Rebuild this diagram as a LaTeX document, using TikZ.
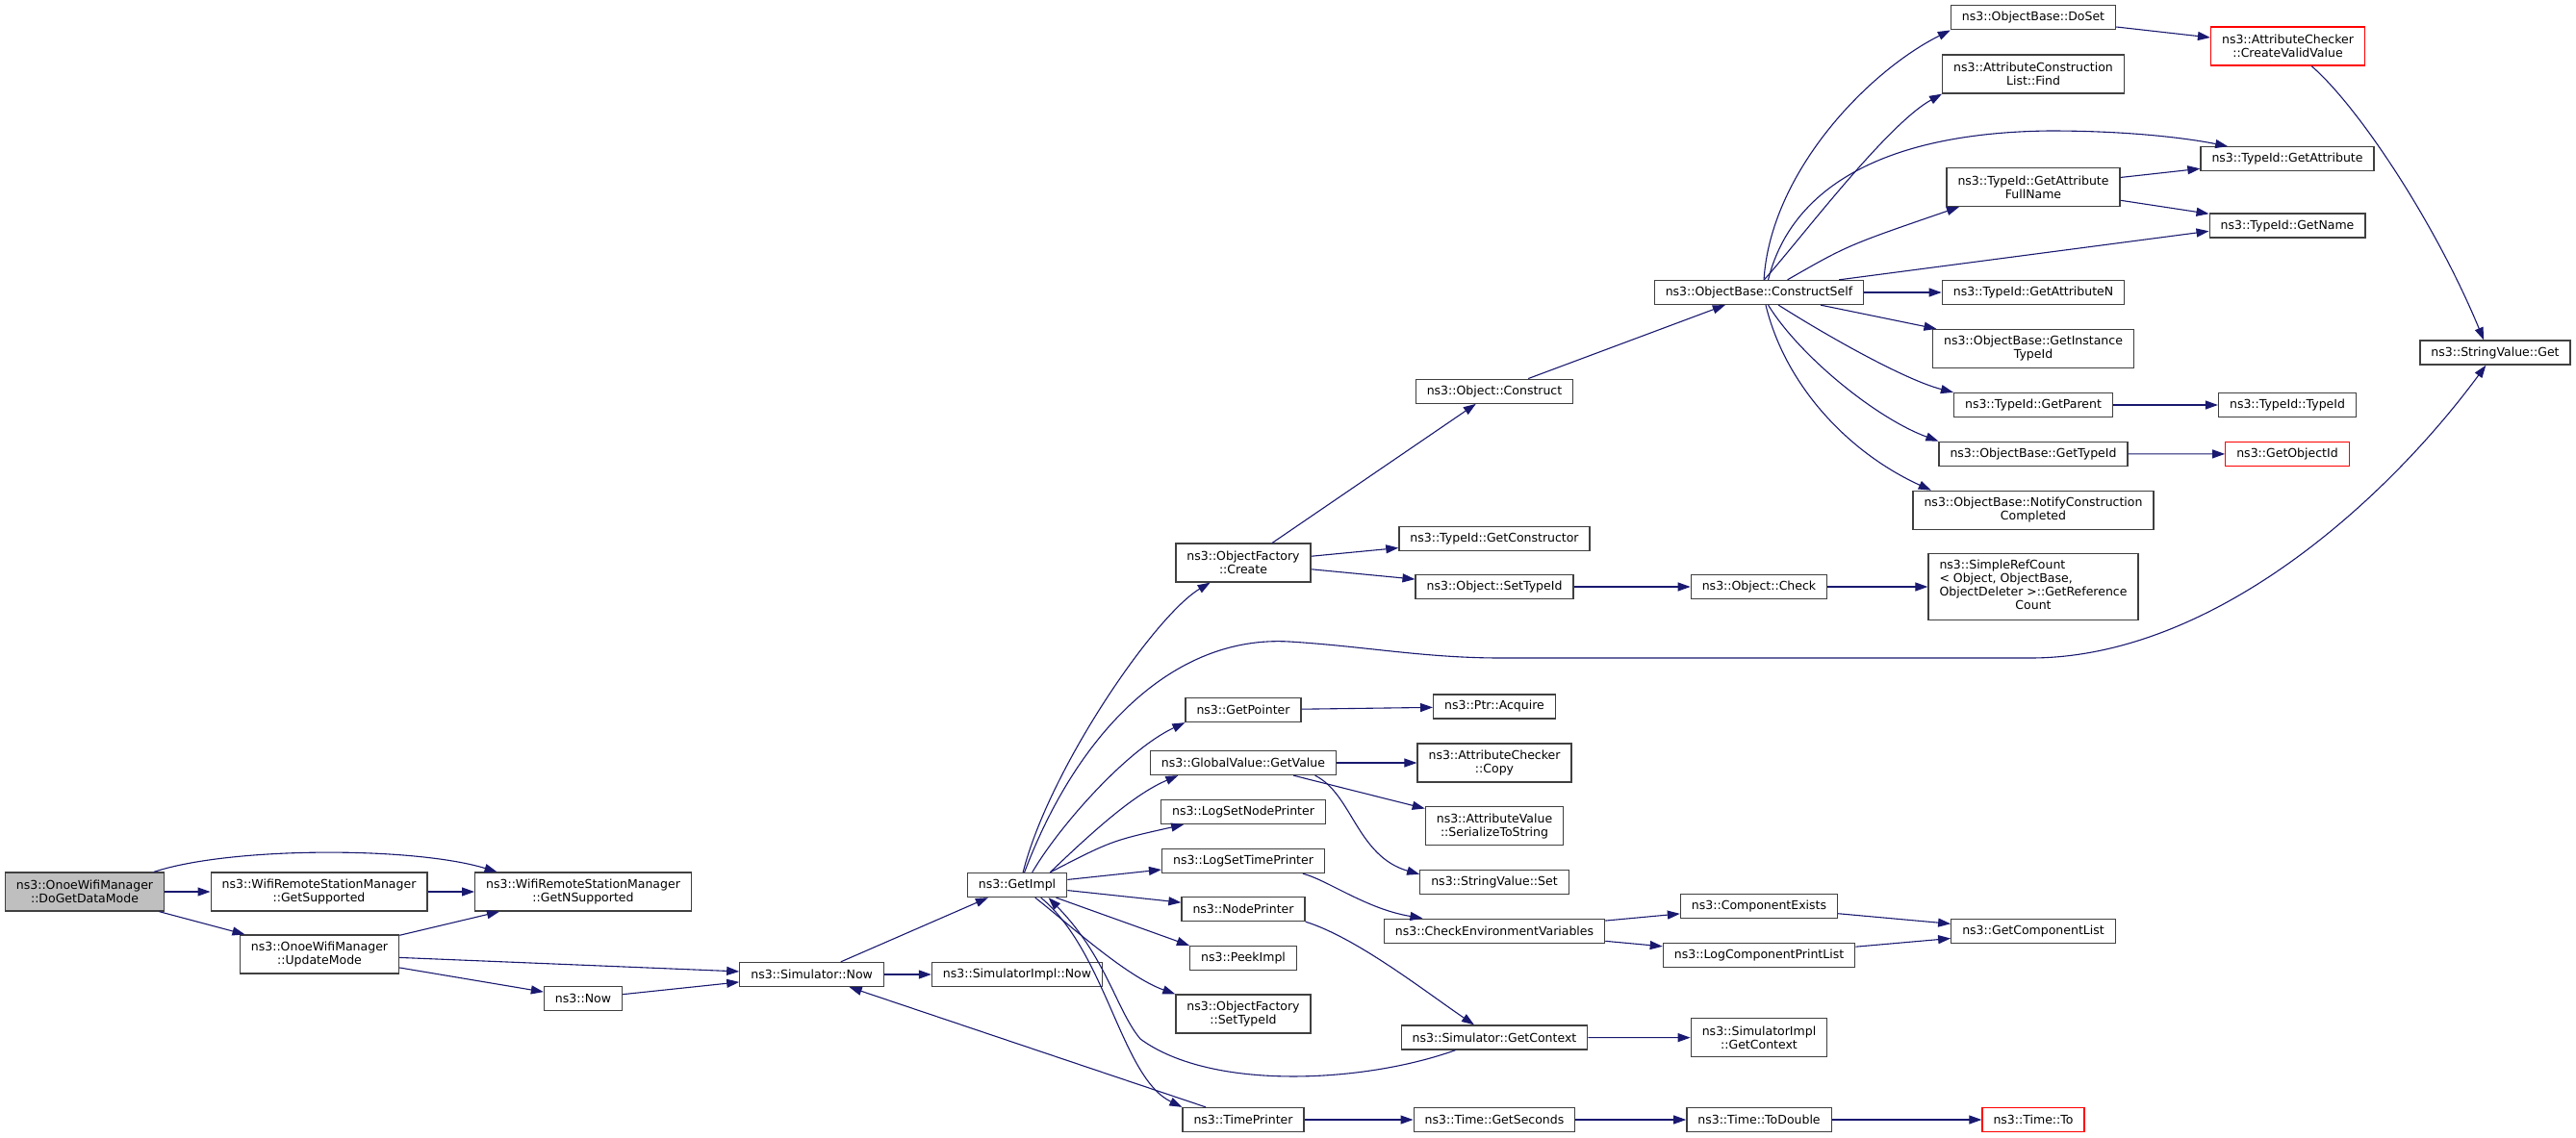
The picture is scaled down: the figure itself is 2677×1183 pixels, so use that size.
\documentclass[tikz,border=0pt]{standalone}
\usepackage{fontspec}
\setmainfont{DejaVu Sans}
\usetikzlibrary{arrows.meta}
\definecolor{edgeblue}{HTML}{191970}
\definecolor{boxgray}{HTML}{404040}

\begin{document}
\begin{tikzpicture}[x=1pt,y=-1pt,
	fn/.style={draw=boxgray,line width=1.3pt,fill=white,align=center,inner xsep=11.5pt,inner ysep=2pt,minimum height=25pt,font=\fontsize{12.5}{14}\selectfont},
	two/.style={minimum height=40pt},
	rootfn/.style={fn,fill=gray!50},
	redfn/.style={fn,draw=red},
	call/.style={draw=edgeblue,line width=1.1pt,-{Triangle[length=13pt,width=9pt]}}]
	\useasboundingbox (0,0) rectangle (2677,1183);
	
	%boxes, left part
	\node[rootfn,two] (dogetdata) at (88,927) {ns3::OnoeWifiManager\\::DoGetDataMode};
	\node[fn,two] (getsupported) at (331.5,927) {ns3::WifiRemoteStationManager\\::GetSupported};
	\node[fn,two] (updatemode) at (332,992) {ns3::OnoeWifiManager\\::UpdateMode};
	\node[fn,two] (getnsupported) at (606,927) {ns3::WifiRemoteStationManager\\::GetNSupported};
	\node[fn] (now) at (606,1038) {ns3::Now};
	\node[fn] (simnow) at (843.6,1013) {ns3::Simulator::Now};
	\node[fn] (simimplnow) at (1057,1013) {ns3::SimulatorImpl::Now};
	\node[fn] (getimpl) at (1057,920) {ns3::GetImpl};
	%
	\node[fn,two] (ofcreate) at (1292,585) {ns3::ObjectFactory\\::Create};
	\node[fn] (getpointer) at (1292,738) {ns3::GetPointer};
	\node[fn] (getvalue) at (1292,793) {ns3::GlobalValue::GetValue};
	\node[fn] (lognodeprinter) at (1292,844) {ns3::LogSetNodePrinter};
	\node[fn] (logtimeprinter) at (1292,895) {ns3::LogSetTimePrinter};
	\node[fn] (nodeprinter) at (1292,945) {ns3::NodePrinter};
	\node[fn] (peekimpl) at (1292,996) {ns3::PeekImpl};
	\node[fn,two] (ofsettypeid) at (1292,1054) {ns3::ObjectFactory\\::SetTypeId};
	\node[fn] (timeprinter) at (1292,1164) {ns3::TimePrinter};
	%
	\node[fn] (construct) at (1553,406.7) {ns3::Object::Construct};
	\node[fn] (getconstructor) at (1553,560) {ns3::TypeId::GetConstructor};
	\node[fn] (objsettypeid) at (1553,610) {ns3::Object::SetTypeId};
	\node[fn] (acquire) at (1553,734.5) {ns3::Ptr::Acquire};
	\node[fn,two] (copy) at (1553,793) {ns3::AttributeChecker\\::Copy};
	\node[fn,two] (serialize) at (1553,858.7) {ns3::AttributeValue\\::SerializeToString};
	\node[fn] (svset) at (1553,917) {ns3::StringValue::Set};
	\node[fn] (checkenv) at (1553,967.7) {ns3::CheckEnvironmentVariables};
	\node[fn] (simcontext) at (1553,1078.5) {ns3::Simulator::GetContext};
	\node[fn] (getseconds) at (1553,1164) {ns3::Time::GetSeconds};
	%
	\node[fn] (constructself) at (1828,304) {ns3::ObjectBase::ConstructSelf};
	\node[fn] (objcheck) at (1828,610) {ns3::Object::Check};
	\node[fn] (compexists) at (1828,942.3) {ns3::ComponentExists};
	\node[fn] (logcomplist) at (1828,993) {ns3::LogComponentPrintList};
	\node[fn,two] (simimplcontext) at (1828,1078.7) {ns3::SimulatorImpl\\::GetContext};
	\node[fn] (todouble) at (1828,1164) {ns3::Time::ToDouble};
	
	%boxes, right part
	\node[fn] (doset) at (2113,18.3) {ns3::ObjectBase::DoSet};
	\node[fn,two] (find) at (2113,77) {ns3::AttributeConstruction\\List::Find};
	\node[fn,two] (fullname) at (2113,194.5) {ns3::TypeId::GetAttribute\\FullName};
	\node[fn] (getattrn) at (2113,304) {ns3::TypeId::GetAttributeN};
	\node[fn,two] (instance) at (2113,362.5) {ns3::ObjectBase::GetInstance\\TypeId};
	\node[fn] (getparent) at (2113,421) {ns3::TypeId::GetParent};
	\node[fn] (gettypeid) at (2113,471.7) {ns3::ObjectBase::GetTypeId};
	\node[fn,two] (notify) at (2113,530.3) {ns3::ObjectBase::NotifyConstruction\\Completed};
	\node[fn,minimum height=68.6pt] (refcount) at (2113,610) {\begin{tabular}{@{}c@{}}\multicolumn{1}{@{}l@{}}{ns3::SimpleRefCount}\\\multicolumn{1}{@{}l@{}}{< Object, ObjectBase,}\\ObjectDeleter >::GetReference\\Count\end{tabular}};
	\node[fn] (complist) at (2113,968) {ns3::GetComponentList};
	\node[redfn] (timeto) at (2113,1164) {ns3::Time::To};
	%
	\node[redfn,two] (createvalid) at (2377.5,48) {ns3::AttributeChecker\\::CreateValidValue};
	\node[fn] (getattr) at (2377,165.3) {ns3::TypeId::GetAttribute};
	\node[fn] (getname) at (2377,234.6) {ns3::TypeId::GetName};
	\node[fn] (typeid) at (2377,421) {ns3::TypeId::TypeId};
	\node[redfn] (getobjectid) at (2377,472) {ns3::GetObjectId};
	\node[fn] (svget) at (2593,366.6) {ns3::StringValue::Get};
	
	%calls from the root
	\draw[call] (dogetdata) -- (getsupported);
	\draw[call] (dogetdata.16) .. controls (240,880) and (430,880) .. (getnsupported.167);
	\draw[call] (dogetdata) -- (updatemode);
	\draw[call] (getsupported) -- (getnsupported);
	\draw[call] (updatemode) -- (getnsupported);
	\draw[call] (updatemode) -- (simnow);
	\draw[call] (updatemode) -- (now);
	\draw[call] (now) -- (simnow);
	\draw[call] (simnow) -- (getimpl);
	\draw[call] (simnow) -- (simimplnow);
	\draw[call] (timeprinter) -- (simnow);
	
	%calls from GetImpl
	\draw[call] (getimpl.65) .. controls (1090,800) and (1200,640) .. (ofcreate.211);
	\draw[call] (getimpl.60) .. controls (1120,760) and (1220,660) .. (1340,667) .. controls (1420,672) and (1480,684) .. (1560,684) -- (2110,684) .. controls (2300,684) and (2480,520) .. (svget);
	\draw[call] (getimpl.40) .. controls (1100,860) and (1170,780) .. (getpointer.south west);
	\draw[call] (getimpl.21) .. controls (1140,860) and (1180,825) .. (getvalue.191);
	\draw[call] (getimpl.21) .. controls (1155,874) .. (lognodeprinter.192);
	\draw[call] (getimpl) -- (logtimeprinter);
	\draw[call] (getimpl) -- (nodeprinter);
	\draw[call] (getimpl.-18) -- (peekimpl.north west);
	\draw[call] (getimpl.-35) .. controls (1110,960) and (1170,1015) .. (ofsettypeid.north west);
	\draw[call] (getimpl.-28) .. controls (1150,990) and (1165,1120) .. (timeprinter.north west);
	\draw[call] (simcontext.198) .. controls (1420,1125) and (1260,1135) .. (1185,1080) .. controls (1160,1050) and (1150,995) .. (getimpl.-22);
	
	%object construction
	\draw[call] (ofcreate) -- (construct);
	\draw[call] (ofcreate) -- (getconstructor);
	\draw[call] (ofcreate) -- (objsettypeid);
	\draw[call] (objsettypeid) -- (objcheck);
	\draw[call] (objcheck) -- (refcount);
	\draw[call] (construct) -- (constructself);
	\draw[call] (constructself.69) .. controls (1840,180) and (1940,75) .. (doset.south west);
	\draw[call] (constructself.68) .. controls (1870,250) and (1960,130) .. (find.south west);
	\draw[call] (constructself.54) .. controls (1860,200) and (1950,138) .. (2130,136) .. controls (2220,136) and (2280,145) .. (getattr.168);
	\draw[call] (constructself.24) .. controls (1920,255) .. (fullname.195);
	\draw[call] (constructself.9) -- (getname.184);
	\draw[call] (constructself) -- (getattrn);
	\draw[call] (constructself) -- (instance);
	\draw[call] (constructself.-33) .. controls (1900,350) and (1980,395) .. (getparent.north west);
	\draw[call] (constructself.-54) .. controls (1870,370) and (1950,435) .. (gettypeid.north west);
	\draw[call] (constructself.-62) .. controls (1855,400) and (1920,470) .. (notify.169);
	\draw[call] (fullname) -- (getattr);
	\draw[call] (fullname) -- (getname);
	\draw[call] (doset) -- (createvalid);
	\draw[call] (createvalid.-40) .. controls (2450,110) and (2530,230) .. (svget.132);
	\draw[call] (getparent) -- (typeid);
	\draw[call] (gettypeid) -- (getobjectid);
	
	%values, logging, time
	\draw[call] (getpointer) -- (acquire);
	\draw[call] (getvalue) -- (copy);
	\draw[call] (getvalue) -- (serialize);
	\draw[call] (getvalue.-10) .. controls (1405,825) and (1410,890) .. (svset.174);
	\draw[call] (logtimeprinter.-12) .. controls (1380,915) and (1420,945) .. (checkenv.170);
	\draw[call] (nodeprinter.south east) .. controls (1410,975) and (1480,1030) .. (simcontext.148);
	\draw[call] (checkenv) -- (compexists);
	\draw[call] (checkenv) -- (logcomplist);
	\draw[call] (compexists) -- (complist);
	\draw[call] (logcomplist) -- (complist);
	\draw[call] (simcontext) -- (simimplcontext);
	\draw[call] (timeprinter) -- (getseconds);
	\draw[call] (getseconds) -- (todouble);
	\draw[call] (todouble) -- (timeto);
\end{tikzpicture}
\end{document}
